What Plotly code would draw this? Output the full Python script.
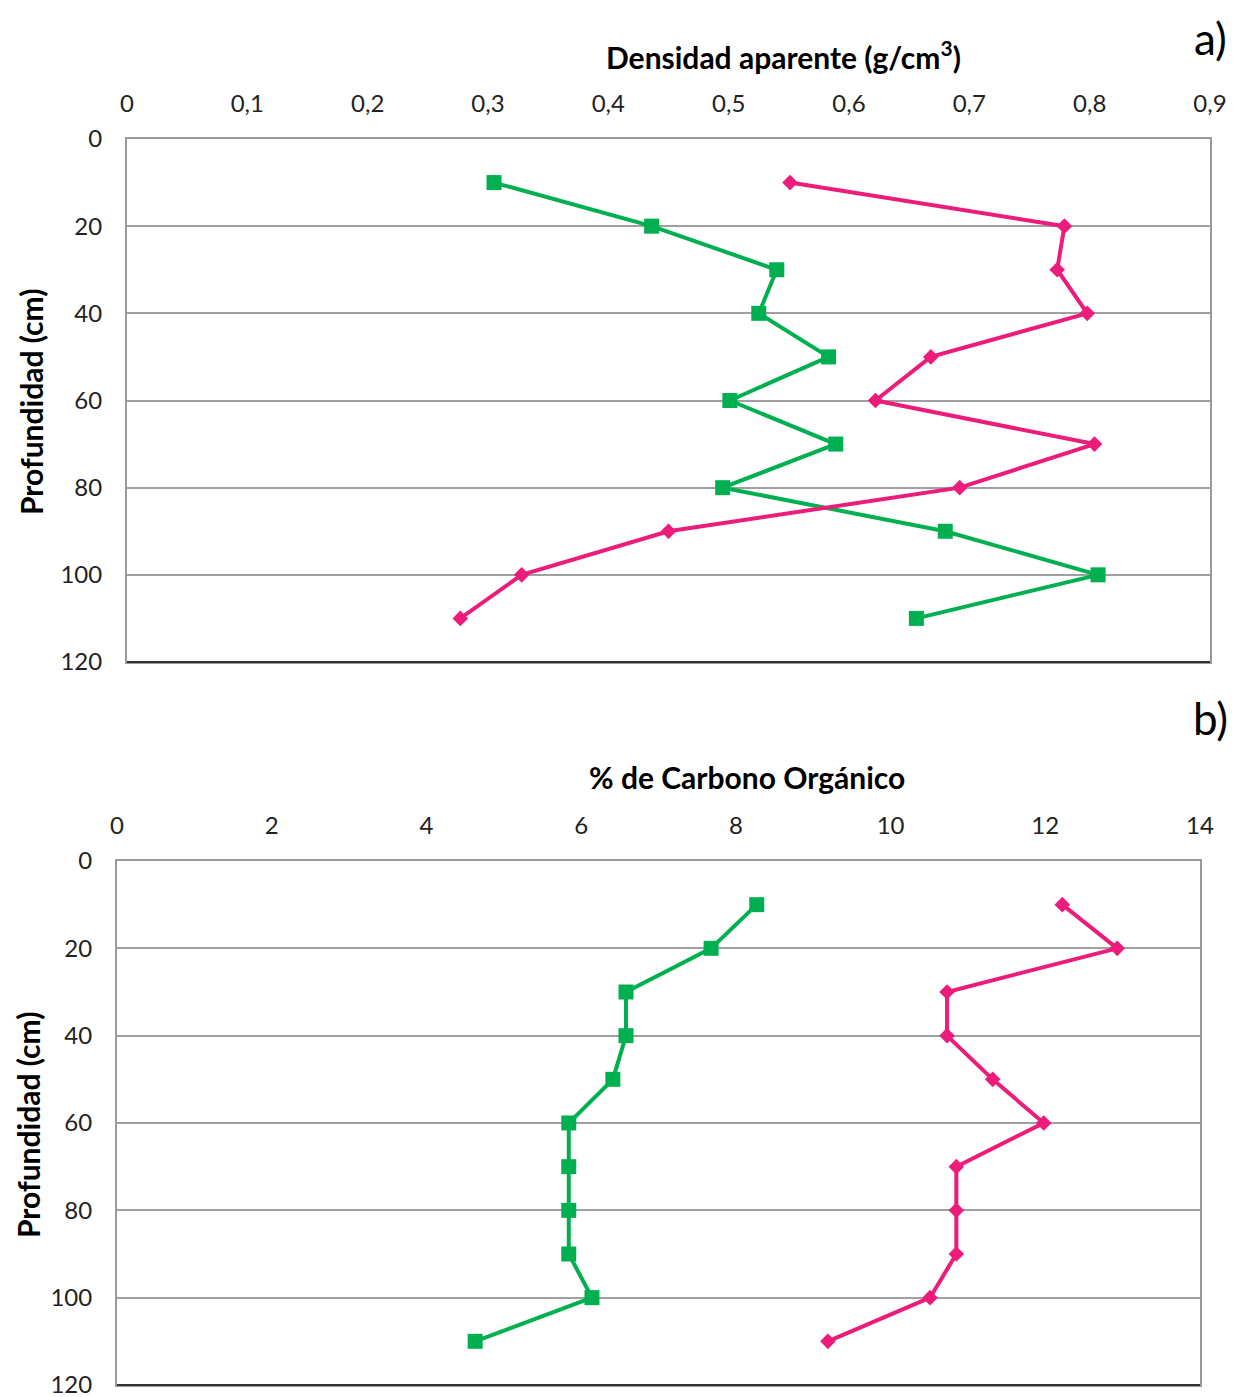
import plotly.graph_objects as go

depth = [10, 20, 30, 40, 50, 60, 70, 80, 90, 100, 110]

dens_green = [0.305, 0.436, 0.540, 0.525, 0.583, 0.501, 0.589, 0.495, 0.680, 0.807, 0.656]
dens_pink = [0.551, 0.779, 0.773, 0.798, 0.668, 0.622, 0.804, 0.692, 0.450, 0.328, 0.277]

carb_green = [8.27, 7.68, 6.58, 6.58, 6.41, 5.84, 5.84, 5.84, 5.84, 6.14, 4.63]
carb_pink = [12.22, 12.93, 10.73, 10.73, 11.32, 11.98, 10.85, 10.85, 10.85, 10.51, 9.19]

dens_ticks = [0, 0.1, 0.2, 0.3, 0.4, 0.5, 0.6, 0.7, 0.8, 0.9]
dens_ticklabels = ["0", "0,1", "0,2", "0,3", "0,4", "0,5", "0,6", "0,7", "0,8", "0,9"]
carb_ticks = [0, 2, 4, 6, 8, 10, 12, 14]
depth_ticks = [0, 20, 40, 60, 80, 100, 120]

GREEN = "#00B050"
PINK = "#EC1C7A"
FONT = "Lato"
OFF = 8  # page margin of the html body
W, H = 1242 - OFF, 1397 - OFF

def px(x):
    return (x - OFF) / W

def py(y):
    return 1 - (y - OFF) / H

fig = go.Figure()

def add_series(x, y, color, symbol, size, xa, ya):
    fig.add_trace(go.Scatter(
        x=x, y=y, mode="lines+markers", xaxis=xa, yaxis=ya,
        line=dict(color=color, width=4),
        marker=dict(color=color, symbol=symbol, size=size),
        showlegend=False, cliponaxis=False))

add_series(dens_green, depth, GREEN, "square", 15, "x", "y")
add_series(dens_pink, depth, PINK, "diamond", 12, "x", "y")
add_series(carb_green, depth, GREEN, "square", 15, "x2", "y2")
add_series(carb_pink, depth, PINK, "diamond", 12, "x2", "y2")

tickfont = dict(family=FONT, size=24, color="#222222")
titlefont = dict(family=FONT, size=30, color="#000000", weight="bold")
ytitlefont = dict(family=FONT, size=30, color="#000000", weight="bold")

def xaxis(domain, rng, ticks, labels, anchor):
    return dict(domain=domain, range=rng, side="top", anchor=anchor,
                tickvals=ticks, ticktext=labels, tickfont=tickfont,
                showgrid=False, zeroline=False, showline=True, linecolor="#9a9a9a",
                linewidth=2, mirror=True, ticks="", ticklabelstandoff=15,
                ticklabeloverflow="allow", automargin=False, fixedrange=True)

def yaxis(domain, anchor):
    return dict(domain=domain, range=[120, 0], anchor=anchor,
                tickvals=depth_ticks, tickfont=tickfont,
                showgrid=True, gridcolor="#a0a0a0", gridwidth=2, zeroline=False,
                showline=True, linecolor="#9a9a9a", linewidth=2, mirror=True,
                ticks="", ticklabelstandoff=18, ticklabeloverflow="allow",
                automargin=False, fixedrange=True)

fig.update_layout(
    width=W, height=H, margin=dict(l=0, r=0, t=0, b=0),
    plot_bgcolor="white", paper_bgcolor="white",
    xaxis=xaxis([px(127), px(1210)], [0, 0.9], dens_ticks, dens_ticklabels, "y"),
    yaxis=yaxis([py(662), py(139)], "x"),
    xaxis2=xaxis([px(117), px(1200)], [0, 14], carb_ticks, [str(t) for t in carb_ticks], "y2"),
    yaxis2=yaxis([py(1385), py(861)], "x2"),
)

# darker bottom borders
for ya, xa in (("y", "x"), ("y2", "x2")):
    fig.add_shape(type="line", xref=f"{xa} domain", yref=f"{ya} domain",
                  x0=0, x1=1, y0=0, y1=0, line=dict(color="#333333", width=2))

def label(text, x, y, font, angle=0, xanchor="center"):
    fig.add_annotation(text=text, x=px(x), y=py(y), xref="paper", yref="paper",
                       showarrow=False, font=font, textangle=angle,
                       xanchor=xanchor, yanchor="middle")

label("Densidad aparente (g/cm<sup>3</sup>)", 783, 55, titlefont)
label("% de Carbono Orgánico", 747, 777, titlefont)
label("Profundidad (cm)", OFF + 3, 402, ytitlefont, -90, xanchor="left")
label("Profundidad (cm)", OFF, 1125, ytitlefont, -90, xanchor="left")

bigfont = dict(family=FONT, size=44, color="#000000")
label("a)", 1210, 38, bigfont)
label("b)", 1210, 718, bigfont)

fig.write_html("out.html")
